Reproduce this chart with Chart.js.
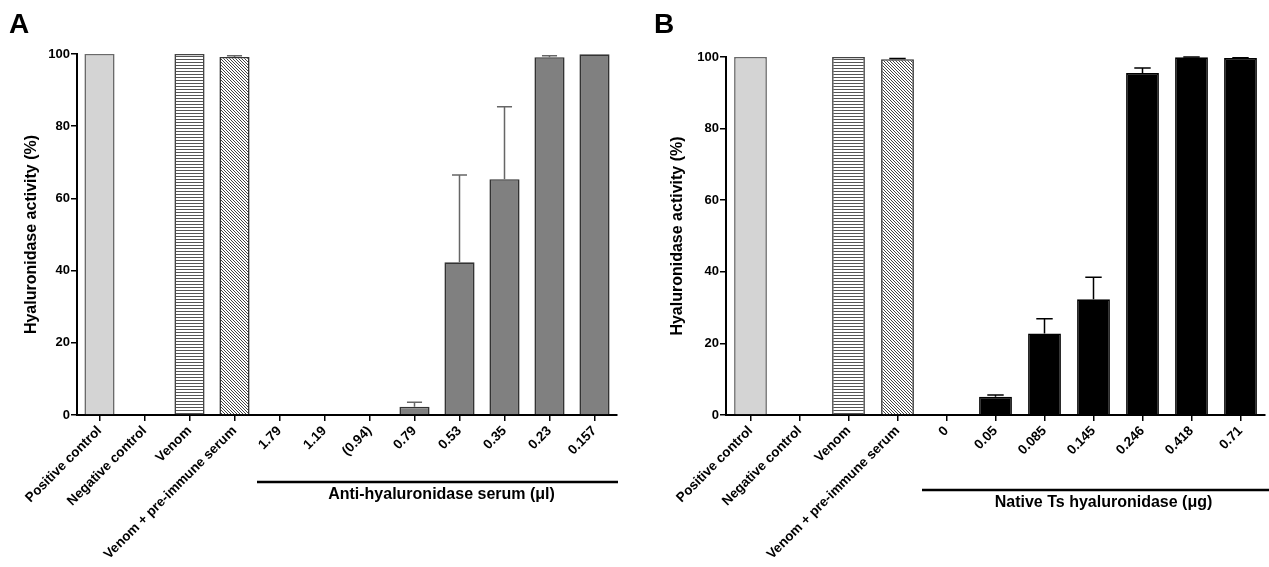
<!DOCTYPE html>
<html>
<head>
<meta charset="utf-8">
<script src="https://cdn.jsdelivr.net/npm/chart.js@4.4.1/dist/chart.umd.min.js"></script>
<style>
  body { margin: 0; background: #fff; }
  canvas { position: absolute; top: 0; }
  #chart-a { left: 0; }
  #chart-b { left: 634px; }
</style>
</head>
<body>
<canvas id="chart-a" width="634" height="567"></canvas>
<canvas id="chart-b" width="635" height="567"></canvas>
<script>
var FONT = "'Liberation Sans', Arial, sans-serif";

// Panel A
var catsA = ['Positive control', 'Negative control', 'Venom', 'Venom + pre-immune serum',
             '1.79', '1.19', '(0.94)', '0.79', '0.53', '0.35', '0.23', '0.157'];
var valsA = [100, 0, 100, 99.2, 0, 0, 0, 2.3, 42.3, 65.3, 99.1, 99.9];
var errA  = [0, 0, 0, 0.3, 0, 0, 0, 1.2, 24.2, 20.1, 0.4, 0];

// Panel B
var catsB = ['Positive control', 'Negative control', 'Venom', 'Venom + pre-immune serum',
             '0', '0.05', '0.085', '0.145', '0.246', '0.418', '0.71'];
var valsB = [100, 0, 100, 99.4, 0, 5.1, 22.8, 32.3, 95.5, 99.9, 99.7];
var errB  = [0, 0, 0, 0.2, 0, 0.5, 4.1, 6.2, 1.4, 0.1, 0.1];

var yTicks = [0, 20, 40, 60, 80, 100];

// hatch fills
function hatch(kind) {
  var c = document.createElement('canvas');
  var ctx = c.getContext('2d');
  if (kind === 'h') {
    c.width = 4; c.height = 3;
    ctx.fillStyle = '#fff'; ctx.fillRect(0, 0, 4, 3);
    ctx.fillStyle = '#555'; ctx.fillRect(0, 2, 4, 1);
  } else {
    c.width = 3; c.height = 3;
    ctx.fillStyle = '#fff'; ctx.fillRect(0, 0, 3, 3);
    ctx.fillStyle = '#444';
    for (var i = 0; i < 3; i++) ctx.fillRect(i, i, 1, 1);
  }
  return ctx.createPattern(c, 'repeat');
}

function makePanel(id, cats, vals, errs, groupColor, groupBorder, errColor, opt) {
  var fills = [], borders = [];
  cats.forEach(function(c, i) {
    if (i === 0) { fills.push('#d4d4d4'); borders.push('#6a6a6a'); }
    else if (i === 1) { fills.push('#fff'); borders.push('#6a6a6a'); }
    else if (i === 2) { fills.push(hatch('h')); borders.push('#444'); }
    else if (i === 3) { fills.push(hatch('d')); borders.push('#333'); }
    else { fills.push(groupColor); borders.push(groupBorder); }
  });

  var extras = {
    id: 'extras',
    afterDatasetsDraw: function(chart) {
      var ctx = chart.ctx;
      var x = chart.scales.x, y = chart.scales.y;
      var meta = chart.getDatasetMeta(0);
      ctx.save();
      // error bars
      ctx.strokeStyle = errColor;
      ctx.lineWidth = 1.5;
      errs.forEach(function(e, i) {
        if (!e) return;
        var bar = meta.data[i];
        var top = y.getPixelForValue(vals[i] + e);
        var half = bar.width / 4;
        ctx.beginPath();
        ctx.moveTo(bar.x, bar.y);
        ctx.lineTo(bar.x, top);
        ctx.moveTo(bar.x - half, top);
        ctx.lineTo(bar.x + half, top);
        ctx.stroke();
      });
      // group bracket
      var step = x.getPixelForValue(1) - x.getPixelForValue(0);
      var x0 = x.getPixelForValue(4) - step / 2;
      var x1 = x.right + opt.lineExtra;
      var ly = chart.chartArea.bottom + opt.lineDy;
      ctx.strokeStyle = '#000';
      ctx.lineWidth = 2.5;
      ctx.beginPath();
      ctx.moveTo(x0, ly);
      ctx.lineTo(x1, ly);
      ctx.stroke();
      ctx.fillStyle = '#000';
      ctx.font = 'bold 16px ' + FONT;
      ctx.textAlign = 'center';
      ctx.textBaseline = 'middle';
      ctx.fillText(opt.group, (x0 + x1) / 2 + opt.textDx, ly + 13);
      // panel letter
      ctx.font = 'bold 28px ' + FONT;
      ctx.textAlign = 'left';
      ctx.textBaseline = 'alphabetic';
      ctx.fillText(opt.letter, opt.letterX, 33);
      ctx.restore();
    }
  };

  return new Chart(document.getElementById(id).getContext('2d'), {
    type: 'bar',
    data: {
      labels: cats,
      datasets: [{
        data: vals,
        backgroundColor: fills,
        borderColor: borders,
        borderWidth: 1.6,
        borderSkipped: 'bottom',
        barPercentage: 0.67,
        categoryPercentage: 1
      }]
    },
    options: {
      responsive: false,
      animation: false,
      devicePixelRatio: 1,
      layout: { padding: opt.padding },
      plugins: { legend: { display: false }, tooltip: { enabled: false } },
      scales: {
        x: {
          offset: true,
          grid: { display: true, drawOnChartArea: false, offset: false, tickLength: 6, color: '#000', lineWidth: 1.5 },
          border: { color: '#000', width: 2 },
          ticks: {
            color: '#000', font: { family: FONT, size: 13.5, weight: 'bold' },
            maxRotation: 45, minRotation: 45, autoSkip: false, padding: 2
          },
          afterFit: function(s) { s.height = opt.xHeight; }
        },
        y: {
          min: 0, max: 100,
          afterBuildTicks: function(s) { s.ticks = yTicks.map(function(v) { return { value: v }; }); },
          grid: { display: true, drawOnChartArea: false, tickLength: 6, color: '#000', lineWidth: 1.5 },
          border: { color: '#000', width: 2 },
          ticks: { color: '#000', font: { family: FONT, size: 13, weight: 'bold' }, padding: 1 },
          title: {
            display: true, text: 'Hyaluronidase activity (%)', color: '#000',
            font: { family: FONT, size: 16, weight: 'bold' }, padding: 0
          },
          afterFit: function(s) { s.width = opt.yWidth; }
        }
      }
    },
    plugins: [extras]
  });
}

var chartA = makePanel('chart-a', catsA, valsA, errA, '#808080', '#333', '#666', {
  padding: { left: 22, top: 54, right: 17, bottom: 0 },
  yWidth: 55, xHeight: 152,
  group: 'Anti-hyaluronidase serum (\u03bcl)', lineDy: 67, lineExtra: 1, textDx: 4,
  letter: 'A', letterX: 9
});

var chartB = makePanel('chart-b', catsB, valsB, errB, '#000', '#000', '#000', {
  padding: { left: 34, top: 57, right: 4, bottom: 0 },
  yWidth: 58, xHeight: 152,
  group: 'Native Ts hyaluronidase (\u03bcg)', lineDy: 75, lineExtra: 4, textDx: 8,
  letter: 'B', letterX: 20
});
</script>
</body>
</html>
